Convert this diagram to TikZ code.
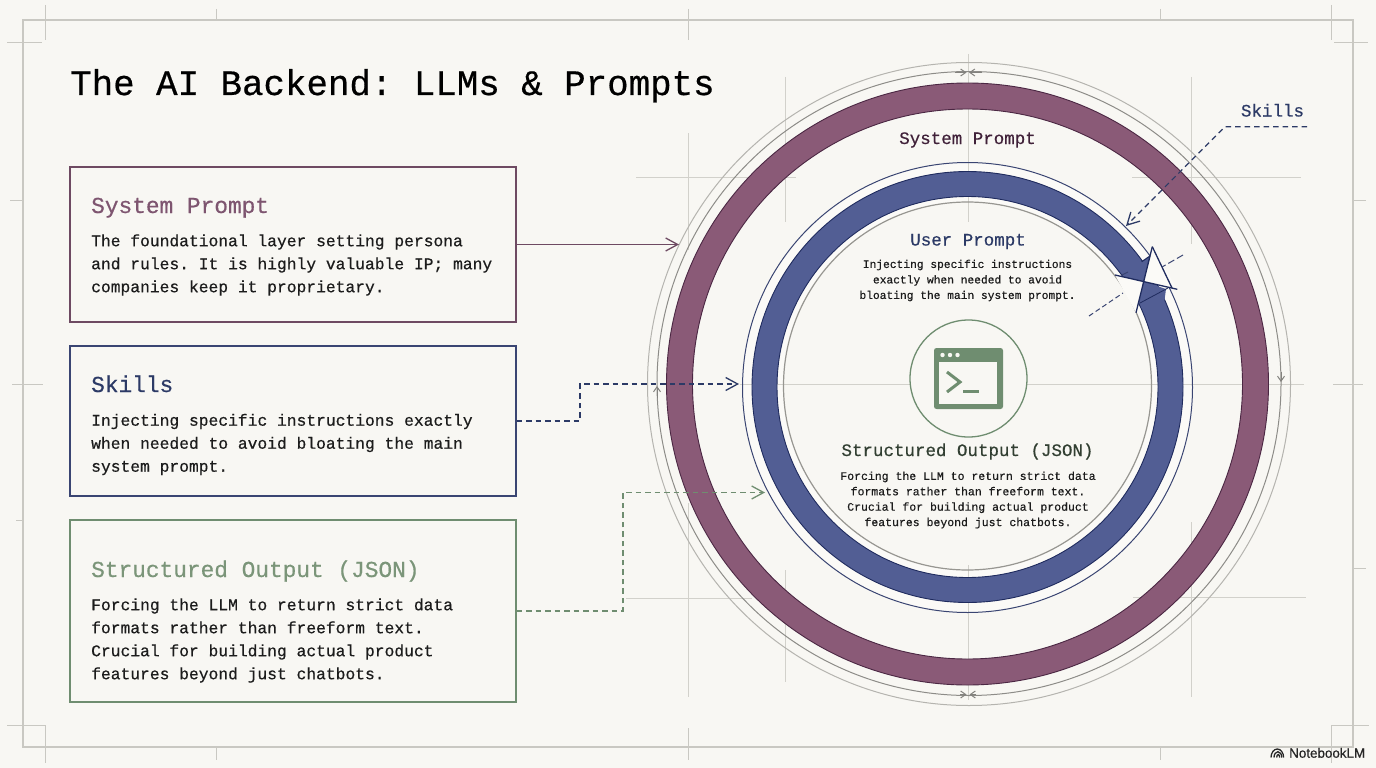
\documentclass[tikz,border=0pt]{standalone}
\usepackage{fontspec}
\setmainfont[RawFeature={embolden=0.5}]{Liberation Mono}
\newfontfamily\logofont[RawFeature={embolden=0.7}]{Liberation Sans}
\usetikzlibrary{arrows.meta}
\definecolor{paper}{HTML}{F8F7F3}
\definecolor{halo}{HTML}{FBFAF7}
\definecolor{guide}{HTML}{D2D1CB}
\definecolor{framec}{HTML}{C9C8C2}
\definecolor{maroonfill}{HTML}{8A5A77}
\definecolor{maroonedge}{HTML}{4B2743}
\definecolor{maroonbox}{HTML}{6E4A62}
\definecolor{maroontxt}{HTML}{7E5570}
\definecolor{bluefill}{HTML}{525E94}
\definecolor{blueedge}{HTML}{1F2B5E}
\definecolor{bluebox}{HTML}{3A4572}
\definecolor{bluetxt}{HTML}{2C3A66}
\definecolor{greenc}{HTML}{6F8D70}
\definecolor{greentxt}{HTML}{7B9579}
\definecolor{inkc}{HTML}{1C1C1C}
\tikzset{
  x=1pt,y=-1pt,
  guideline/.style={guide,line width=0.9pt},
  frameline/.style={framec,line width=1.3pt},
  cardbox/.style={draw,line width=1.15pt,inner sep=0pt,minimum width=446pt,fill=paper},
  cardhead/.style={anchor=base west,inner sep=0pt,font=\frenchspacing\fontsize{22.8}{26}\selectfont},
  cardbody/.style={anchor=west,inner sep=0pt,align=left,text=inkc,font=\frenchspacing\fontsize{16.3}{23}\selectfont},
  ringhead/.style={anchor=base,inner sep=0pt,font=\frenchspacing\fontsize{17.5}{20}\selectfont},
  ringbody/.style={anchor=center,inner sep=0pt,align=center,text=inkc},
  chev/.style={-{Straight Barb[length=12pt,width=13pt,line width=1.3pt]}},
  smallchev/.style={-{Straight Barb[length=5pt,width=7pt,line width=1pt]}},
  dashline/.style={dash pattern=on 5.5pt off 4pt,line width=1.4pt},
}
\begin{document}
\begin{tikzpicture}
\useasboundingbox (0,0) rectangle (1376,768);
\fill[paper] (0,0) rectangle (1376,768);
% frame and registration marks
\draw[frameline] (23,20) rectangle (1353,747);
\foreach \a/\b/\c/\d in {45/5/45/40, 7/43/42/43, 1331/5/1331/40, 1334/43/1368/43, 7/725/45/725, 45/725/45/763, 1331/725/1369/725, 1331/725/1331/763,
  216/9/216/20, 688/9/688/40, 1160/9/1160/20, 216/747/216/760, 688/728/688/760, 1160/747/1160/760,
  10/200/23/200, 12/384/43/384, 16/520/23/520, 1353/200/1366/200, 1333/384/1363/384, 1353/568/1366/568}
  \draw[frameline,line width=1pt] (\a,\b) -- (\c,\d);
% halos
\fill[halo] (967.5,387.5) circle (225pt);
\fill[paper] (967.5,386) circle (184pt);
% guides
\foreach \a/\b/\c/\d in {688/133/688/250, 688/503/688/697, 785/77/785/222, 785/570/785/682, 1191/77/1191/244, 1191/522/1191/697,
  636/177/796/177, 1132/177/1301/177, 626/598/752/598, 1133/597/1306/597,
  740/384/910/384, 1027/384/1304/384, 968/54/968/222, 968/565/968/700}
  \draw[guideline] (\a,\b) -- (\c,\d);
% outer guide circles
\draw[color=framec!90!black,line width=1pt] (969,384) circle (321.5pt);
\draw[color=framec!70!black,line width=1pt] (969,383.5) circle (312pt);
% rings
\fill[maroonfill,even odd rule] (967.5,384) circle (301pt) (967.5,384) circle (275pt);
\draw[maroonedge,line width=0.9pt] (967.5,384) circle (301pt) (967.5,384) circle (275pt);
\fill[bluefill,even odd rule] (967.5,387) circle (215.5pt) (967.5,387) circle (190.5pt);
\draw[blueedge,line width=0.9pt] (967.5,387) circle (215.5pt) (967.5,387) circle (190.5pt);
\draw[bluebox,line width=1pt] (967.5,387.5) circle (225pt);
\draw[color=framec!75!black,line width=1.2pt] (967.5,386) circle (184pt);
% small arrowheads on the guide circle
\coordinate (ga) at (955,72.5); \coordinate (gb) at (966.5,72.5);
\coordinate (gc) at (982,72.5); \coordinate (gd) at (969,72.5);
\coordinate (ge) at (1281,372); \coordinate (gf) at (1281,382);
\coordinate (gg) at (657,398); \coordinate (gh) at (657,386);
\coordinate (gi) at (960,694.5); \coordinate (gj) at (966.5,694.5);
\coordinate (gk) at (976,694.5); \coordinate (gl) at (969.5,694.5);
\draw[smallchev,color=framec!65!black] (ga) -- (gb);
\draw[smallchev,color=framec!65!black] (gc) -- (gd);
\draw[smallchev,color=framec!65!black] (ge) -- (gf);
\draw[smallchev,color=framec!65!black] (gg) -- (gh);
\draw[smallchev,color=framec!65!black] (gi) -- (gj);
\draw[smallchev,color=framec!65!black] (gk) -- (gl);
% the star-shaped break in the blue ring
\coordinate (sa) at (1152.3,246.7);
\coordinate (sb) at (1136,312.7);
\coordinate (sl) at (1115,275);
\coordinate (sr) at (1177.3,289.3);
\coordinate (sx) at (1143.7,281.6);
\fill[halo] (sa) -- (sr) -- (sx) -- cycle;
\fill[halo] (sl) -- (sb) -- (sx) -- cycle;
\fill[bluefill] (1141.7,261.7) -- (1150,256) -- (sx) -- (1124,277) -- cycle;
\fill[bluefill] (sx) -- (1166,289) -- (1164.5,300) -- (1141,308) -- cycle;
\draw[blueedge,line width=1.3pt] (sa) -- (sb);
\draw[blueedge,line width=1.3pt] (sl) -- (sr);
\draw[blueedge,line width=1.3pt] (sa) -- (1172,288);
\draw[blueedge,line width=1.1pt] (1141.7,261.7) -- (1150,256);
\draw[blueedge,line width=0.8pt] (1140,303) -- (1168,288);
\draw[bluebox,line width=1pt,dash pattern=on 7pt off 3pt] (1183,255) -- (1162,267);
\draw[bluebox,line width=1pt] (1122,275) -- (1128,272);
\draw[bluebox,line width=1pt,dash pattern=on 5pt off 3pt] (1089,316) -- (1123,293);
% title
\node[anchor=base west,inner sep=0pt,text=black,font=\frenchspacing\fontsize{35.8}{40}\selectfont] (title) at (70,95) {The AI Backend: LLMs \& Prompts};
% cards
\node[cardbox,draw=maroonbox,minimum height=155pt] (sys) at (293,244.5) {};
\node[cardhead,text=maroontxt] (syshead) at (91,213) {System Prompt};
\node[cardbody] (sysbody) at (91,265) {The foundational layer setting persona\\and rules. It is highly valuable IP; many\\companies keep it proprietary.};
\node[cardbox,draw=bluebox,minimum height=150pt] (ski) at (293,421) {};
\node[cardhead,text=bluetxt] (skihead) at (91,392) {Skills};
\node[cardbody] (skibody) at (91,444.5) {Injecting specific instructions exactly\\when needed to avoid bloating the main\\system prompt.};
\node[cardbox,draw=greenc,minimum height=182pt] (str) at (293,611) {};
\node[cardhead,text=greentxt] (strhead) at (91,577) {Structured Output (JSON)};
\node[cardbody] (strbody) at (91,640.5) {Forcing the LLM to return strict data\\formats rather than freeform text.\\Crucial for building actual product\\features beyond just chatbots.};
% ring labels
\node[ringhead,text=maroonedge!85!black] (ringsys) at (967.5,144) {System Prompt};
\node[ringhead,text=bluetxt] (ringuser) at (968,245.5) {User Prompt};
\node[ringbody,font=\frenchspacing\fontsize{11.25}{15.5}\selectfont] (userbody) at (967.5,280.5) {Injecting specific instructions\\exactly when needed to avoid\\bloating the main system prompt.};
\node[ringhead,text=greenc!45!black] (ringstr) at (967.5,456) {Structured Output (JSON)};
\node[ringbody,font=\frenchspacing\fontsize{11.5}{15.4}\selectfont] (strbody2) at (968,500) {Forcing the LLM to return strict data\\formats rather than freeform text.\\Crucial for building actual product\\features beyond just chatbots.};
% terminal icon
\node[circle,draw=greenc,line width=1.3pt,minimum size=117pt,inner sep=0pt,fill=paper] (icon) at (968.5,378.5) {};
\fill[greenc,rounded corners=2.5pt] (934,348) rectangle (1003,409);
\fill[paper] (939,362) rectangle (997,404);
\fill[paper] (942.5,355) circle (2.2pt) (950,355) circle (2.2pt) (957.5,355) circle (2.2pt);
\draw[greenc,line width=3pt] (947,372) -- (960,382) -- (947,392);
\draw[greenc,line width=3pt] (963,391) -- (979,391);
% connectors
\coordinate (sysend) at (679,244.5);
\coordinate (skiend) at (739,384);
\coordinate (strend) at (765,492.5);
\draw[chev,maroonbox,line width=1.3pt] (sys.east) -- (sysend);
\draw[chev,dashline,color=bluetxt] (ski.east) -- (580,421) -- (580,384) -- (skiend);
\draw[chev,dashline,color=greenc,line width=1.2pt] (str.east) -- (623,611) -- (623,492.5) -- (strend);
% skills callout
\node[ringhead,text=bluetxt] (skilabel) at (1272.5,116.5) {Skills};
\coordinate (calloutstart) at (1307,126.7);
\coordinate (calloutend) at (1126,226);
\draw[chev,dashline,color=bluetxt,line width=1.2pt] (calloutstart) -- (1225,126.7) -- (calloutend);
% logo
\node[anchor=base west,inner sep=0pt,text=black!85,font=\logofont\fontsize{13.4}{15}\selectfont] (logo) at (1289,757.7) {NotebookLM};
\draw[black!85,line width=1.3pt] (1271,757.5) arc[start angle=180,end angle=0,x radius=6.3pt,y radius=8.5pt];
\draw[black!85,line width=1.3pt] (1274,757.5) arc[start angle=180,end angle=0,x radius=3.9pt,y radius=5.8pt];
\draw[black!85,line width=1.3pt] (1276.7,757.5) arc[start angle=180,end angle=0,x radius=1.5pt,y radius=3pt];
\end{tikzpicture}
\end{document}
